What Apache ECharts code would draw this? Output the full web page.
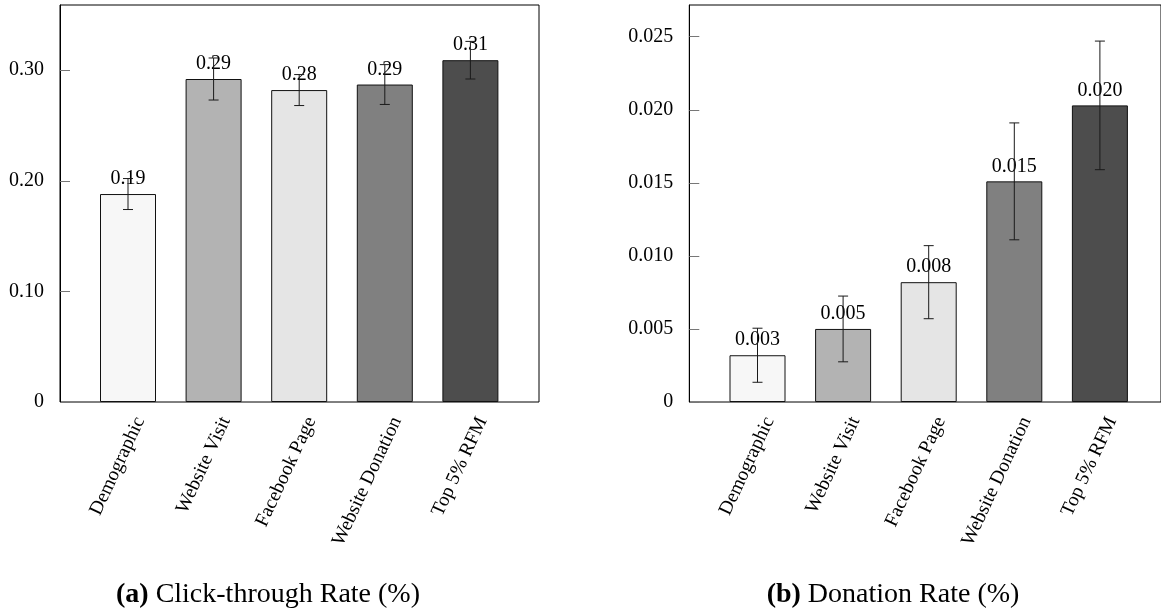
<!DOCTYPE html>
<html>
<head>
<meta charset="utf-8">
<script src="https://cdn.jsdelivr.net/npm/echarts@6/dist/echarts.min.js"></script>
<style>
html,body{margin:0;padding:0;background:#fff;}
#chart{width:1161px;height:614px;}
</style>
</head>
<body>
<div id="chart"></div>
<script>
var categories = ['Demographic', 'Website Visit', 'Facebook Page', 'Website Donation', 'Top 5% RFM'];
var barColors = ['#f7f7f7', '#b3b3b3', '#e5e5e5', '#808080', '#4d4d4d'];

var ctrValues = [0.188, 0.292, 0.282, 0.287, 0.309];
var ctrErrors = [0.014, 0.019, 0.014, 0.018, 0.017];
var ctrTicks = [0, 0.10, 0.20, 0.30];

var donValues = [0.0032, 0.0050, 0.0082, 0.0151, 0.0203];
var donErrors = [0.00185, 0.00225, 0.0025, 0.0040, 0.0044];
var donTicks = [0, 0.005, 0.010, 0.015, 0.020, 0.025];

var captionA = 'Click-through Rate (%)';
var captionB = 'Donation Rate (%)';

var FONT = '"Liberation Serif", "Times New Roman", serif';

function barData(vals) {
  return vals.map(function (v, i) {
    return { value: v, itemStyle: { color: barColors[i] } };
  });
}
function errData(vals, errs) {
  return vals.map(function (v, i) { return [i, v - errs[i], v + errs[i]]; });
}
function errRender(params, api) {
  var x = api.value(0);
  var lo = api.coord([x, api.value(1)]);
  var hi = api.coord([x, api.value(2)]);
  var hw = 5;
  var st = { stroke: '#1a1a1a', lineWidth: 1 };
  return {
    type: 'group',
    children: [
      { type: 'line', shape: { x1: lo[0], y1: lo[1], x2: hi[0], y2: hi[1] }, style: st },
      { type: 'line', shape: { x1: lo[0] - hw, y1: lo[1], x2: lo[0] + hw, y2: lo[1] }, style: st },
      { type: 'line', shape: { x1: hi[0] - hw, y1: hi[1], x2: hi[0] + hw, y2: hi[1] }, style: st }
    ]
  };
}

function frameY(gridIndex, max, interval, digits) {
  return {
    type: 'value', gridIndex: gridIndex, min: 0, max: max, interval: interval,
    axisLine: { show: true, lineStyle: { color: '#000', width: 1 } },
    axisTick: { show: true, inside: true, length: 10, lineStyle: { color: '#777' } },
    axisLabel: {
      show: true, margin: 16, showMaxLabel: false,
      fontFamily: FONT, fontSize: 20, color: '#000',
      formatter: function (v) { return v === 0 ? '0' : v.toFixed(digits); }
    },
    splitLine: { show: false }
  };
}
function hiddenY(gridIndex, max) {
  return { type: 'value', gridIndex: gridIndex, min: 0, max: max, show: false, splitLine: { show: false } };
}
function hiddenX(gridIndex) {
  return { type: 'value', gridIndex: gridIndex, min: 0, max: 1, show: false, splitLine: { show: false } };
}
function catX(gridIndex, showLabels) {
  return {
    type: 'category', gridIndex: gridIndex, data: categories,
    axisLine: { show: false }, axisTick: { show: false },
    axisLabel: { show: showLabels, rotate: 65, margin: 16, fontFamily: FONT, fontSize: 19.5, color: '#000', interval: 0 }
  };
}

var ctrMax = 0.3589, donMax = 0.02717;

var option = {
  animation: false,
  backgroundColor: '#fff',
  grid: [
    { left: 60, top: 5, width: 479, height: 397, show: true, borderColor: '#000', borderWidth: 1, backgroundColor: 'transparent' },
    { left: 85.2, top: 5, width: 428, height: 397 },
    { left: 689.3, top: 5, width: 479, height: 397, show: true, borderColor: '#000', borderWidth: 1, backgroundColor: 'transparent' },
    { left: 714.7, top: 5, width: 428, height: 397 },
    { left: 97.2, top: 5, width: 428, height: 397 },
    { left: 726.7, top: 5, width: 428, height: 397 }
  ],
  xAxis: [hiddenX(0), catX(1, false), hiddenX(2), catX(3, false), catX(4, true), catX(5, true)],
  yAxis: [
    frameY(0, ctrMax, 0.1, 2), hiddenY(1, ctrMax),
    frameY(2, donMax, 0.005, 3), hiddenY(3, donMax),
    hiddenY(4, ctrMax), hiddenY(5, donMax)
  ],
  series: [
    {
      type: 'bar', xAxisIndex: 1, yAxisIndex: 1, barWidth: 56, data: barData(ctrValues),
      itemStyle: { borderColor: '#111', borderWidth: 1 },
      label: { show: true, position: 'top', distance: 5, fontFamily: FONT, fontSize: 20, color: '#000',
        formatter: function (p) { return p.value.toFixed(2); } },
      z: 2
    },
    {
      type: 'custom', xAxisIndex: 1, yAxisIndex: 1, data: errData(ctrValues, ctrErrors),
      encode: { x: 0, y: [1, 2] }, renderItem: errRender, z: 10
    },
    {
      type: 'bar', xAxisIndex: 3, yAxisIndex: 3, barWidth: 56, data: barData(donValues),
      itemStyle: { borderColor: '#111', borderWidth: 1 },
      label: { show: true, position: 'top', distance: 5, fontFamily: FONT, fontSize: 20, color: '#000',
        formatter: function (p) { return p.value.toFixed(3); } },
      z: 2
    },
    {
      type: 'custom', xAxisIndex: 3, yAxisIndex: 3, data: errData(donValues, donErrors),
      encode: { x: 0, y: [1, 2] }, renderItem: errRender, z: 10
    }
  ],
  graphic: [
    {
      type: 'text', x: 268, y: 595,
      style: {
        text: '{b|(a)} ' + captionA, fontFamily: FONT, fontSize: 28, fill: '#000',
        align: 'center', verticalAlign: 'middle',
        rich: { b: { fontWeight: 'bold', fontFamily: FONT, fontSize: 28, fill: '#000' } }
      }
    },
    {
      type: 'text', x: 893, y: 595,
      style: {
        text: '{b|(b)} ' + captionB, fontFamily: FONT, fontSize: 28, fill: '#000',
        align: 'center', verticalAlign: 'middle',
        rich: { b: { fontWeight: 'bold', fontFamily: FONT, fontSize: 28, fill: '#000' } }
      }
    }
  ]
};

var chart = echarts.init(document.getElementById('chart'), null, { renderer: 'canvas' });
chart.setOption(option);
</script>
</body>
</html>
